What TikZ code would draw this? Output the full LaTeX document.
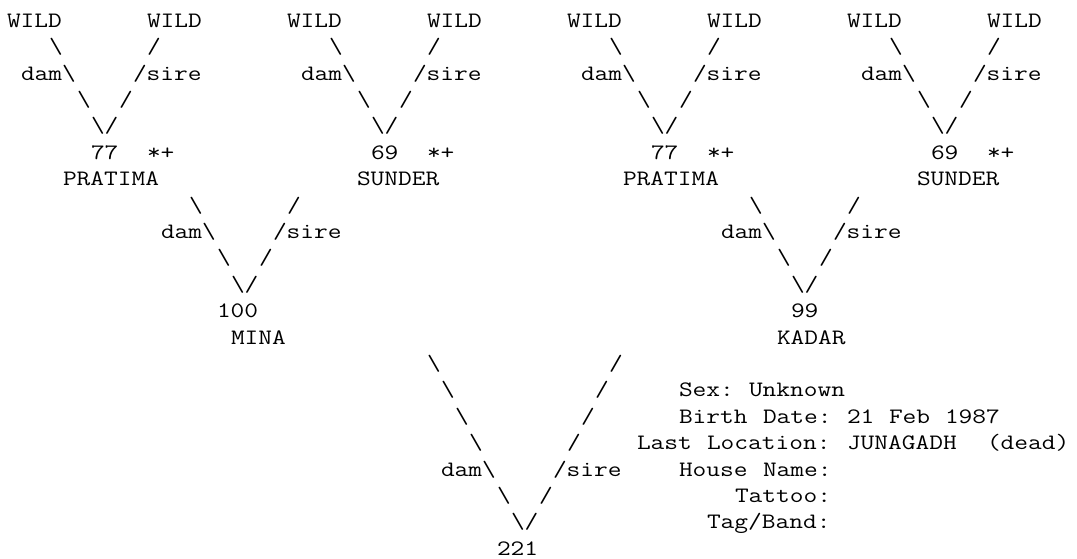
\documentclass[tikz,border=0pt]{standalone}
\usepackage{fontspec}
\newfontfamily\cour{Latin Modern Mono}[FakeStretch=1.212]
\newcommand\bs{\textbackslash}
\newcommand\tk[3]{\node[txt] (t#2-#1) at ({7+#1*14},{27.3+#2*26.4}) {#3};}
\begin{document}
\begin{tikzpicture}[x=1pt,y=-1pt,
  txt/.style={anchor=base west, inner sep=0pt, outer sep=0pt, text=black,
    font=\cour\fontsize{22pt}{26.4pt}\selectfont\frenchspacing}]
\fill[white] (0,0) rectangle (1077,558);
\useasboundingbox (0,0) rectangle (1077,558);
% row 0: grandparents' parents
\foreach \c in {0,10,20,30,40,50,60,70}{\tk{\c}{0}{WILD}}
% row 1
\foreach \c in {3,23,43,63}{\tk{\c}{1}{\bs}}
\foreach \c in {10,30,50,70}{\tk{\c}{1}{/}}
% row 2
\foreach \c in {1,21,41,61}{\tk{\c}{2}{dam\bs}}
\foreach \c in {9,29,49,69}{\tk{\c}{2}{/sire}}
% row 3
\foreach \c in {5,25,45,65}{\tk{\c}{3}{\bs}}
\foreach \c in {8,28,48,68}{\tk{\c}{3}{/}}
% row 4
\foreach \c in {6,26,46,66}{\tk{\c}{4}{\bs/}}
% row 5
\tk{6}{5}{77}\tk{10}{5}{*+}
\tk{26}{5}{69}\tk{30}{5}{*+}
\tk{46}{5}{77}\tk{50}{5}{*+}
\tk{66}{5}{69}\tk{70}{5}{*+}
% row 6
\tk{4}{6}{PRATIMA}
\tk{25}{6}{SUNDER}
\tk{44}{6}{PRATIMA}
\tk{65}{6}{SUNDER}
% rows 7-10
\tk{13}{7}{\bs}\tk{20}{7}{/}\tk{53}{7}{\bs}\tk{60}{7}{/}
\tk{11}{8}{dam\bs}\tk{19}{8}{/sire}\tk{51}{8}{dam\bs}\tk{59}{8}{/sire}
\tk{15}{9}{\bs}\tk{18}{9}{/}\tk{55}{9}{\bs}\tk{58}{9}{/}
\tk{16}{10}{\bs/}\tk{56}{10}{\bs/}
% rows 11-12
\tk{15}{11}{100}\tk{56}{11}{99}
\tk{16}{12}{MINA}\tk{55}{12}{KADAR}
% rows 13-20
\tk{30}{13}{\bs}\tk{43}{13}{/}
\tk{31}{14}{\bs}\tk{42}{14}{/}\tk{48}{14}{Sex:}\tk{53}{14}{Unknown}
\tk{32}{15}{\bs}\tk{41}{15}{/}\tk{48}{15}{Birth}\tk{54}{15}{Date:}\tk{60}{15}{21}\tk{63}{15}{Feb}\tk{67}{15}{1987}
\tk{33}{16}{\bs}\tk{40}{16}{/}\tk{45}{16}{Last}\tk{50}{16}{Location:}\tk{60}{16}{JUNAGADH}\tk{70}{16}{(dead)}
\tk{31}{17}{dam\bs}\tk{39}{17}{/sire}\tk{48}{17}{House}\tk{54}{17}{Name:}
\tk{35}{18}{\bs}\tk{38}{18}{/}\tk{52}{18}{Tattoo:}
\tk{36}{19}{\bs/}\tk{50}{19}{Tag/Band:}
\tk{35}{20}{221}
\end{tikzpicture}
\end{document}
